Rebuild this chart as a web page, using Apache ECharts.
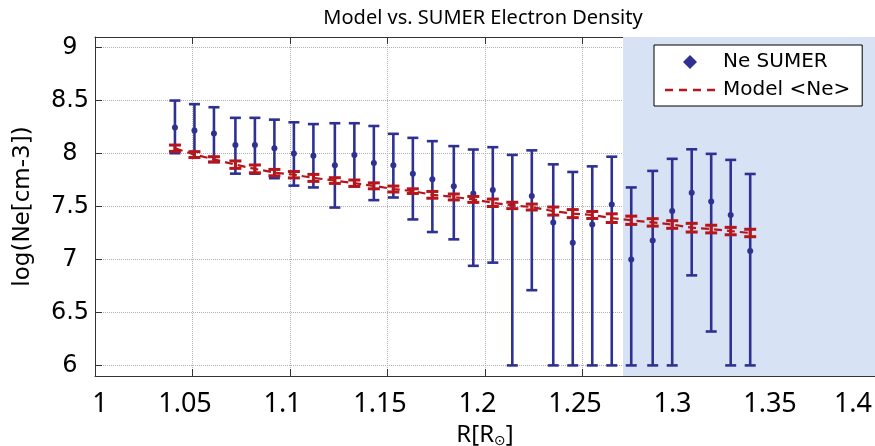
<!DOCTYPE html>
<html><head><meta charset="utf-8">
<script src="https://cdn.jsdelivr.net/npm/echarts@6/dist/echarts.min.js"></script>
<style>html,body{margin:0;padding:0;background:#fff}#c{width:875px;height:446px}</style>
</head><body><div id="c"></div>
<script>
const radius = [1.041,1.051,1.061,1.072,1.082,1.092,1.102,1.112,1.123,1.133,1.143,1.153,1.163,1.173,1.184,1.194,1.204,1.214,1.224,1.235,1.245,1.255,1.265,1.275,1.286,1.296,1.306,1.316,1.326,1.336];
const sumerNe = [8.245,8.217,8.19,8.08,8.08,8.05,8.00,7.978,7.89,7.987,7.91,7.89,7.81,7.757,7.69,7.623,7.656,7.52,7.60,7.35,7.157,7.33,7.52,7.00,7.18,7.457,7.63,7.547,7.42,7.08];
const sumerHigh = [8.50,8.466,8.437,8.337,8.337,8.32,8.295,8.278,8.286,8.286,8.26,8.186,8.148,8.117,8.07,8.038,8.06,7.987,8.03,7.898,7.826,7.879,7.97,7.68,7.836,7.95,8.04,7.997,7.94,7.807];
const sumerLow = [8.003,7.965,7.92,7.81,7.81,7.767,7.697,7.68,7.49,7.688,7.56,7.585,7.378,7.259,7.19,6.94,6.97,6.0,6.71,6.0,6.0,6.0,6.0,6.0,6.0,6.0,6.85,6.32,6.0,6.0];
const modelNe = [8.05,7.99,7.945,7.895,7.855,7.82,7.80,7.77,7.745,7.72,7.695,7.665,7.645,7.61,7.59,7.567,7.535,7.51,7.495,7.457,7.433,7.42,7.39,7.37,7.35,7.33,7.30,7.287,7.268,7.25];
const modelErr = [0.03,0.028,0.025,0.035,0.037,0.03,0.03,0.033,0.027,0.03,0.028,0.028,0.022,0.032,0.028,0.028,0.035,0.03,0.028,0.038,0.038,0.033,0.041,0.039,0.035,0.036,0.041,0.036,0.035,0.035];
const yTicks = [6,6.5,7,7.5,8,8.5,9];
const shadeFrom = 1.2708;
const shadeTo = 1.4;

const chart = echarts.init(document.getElementById('c'));
const blue = '#2e3192', red = '#b5161d';

function errRender(color, capHalf, lw) {
  return function (params, api) {
    const x = api.value(0), lo = api.value(1), hi = api.value(2);
    const pLo = api.coord([x, lo]), pHi = api.coord([x, hi]);
    const style = {stroke: color, lineWidth: lw, fill: null};
    return {type: 'group', children: [
      {type: 'line', shape: {x1: pLo[0], y1: pLo[1], x2: pHi[0], y2: pHi[1]}, style: style},
      {type: 'line', shape: {x1: pLo[0] - capHalf, y1: pLo[1], x2: pLo[0] + capHalf, y2: pLo[1]}, style: style},
      {type: 'line', shape: {x1: pHi[0] - capHalf, y1: pHi[1], x2: pHi[0] + capHalf, y2: pHi[1]}, style: style}
    ]};
  };
}

const axisLineStyle = {color: '#333', width: 1};
const fmtX = v => {
  const s = String(parseFloat(v.toFixed(2)));
  if (v === 1) return '{a|' + s + '}';
  if (v >= 1.4) return '{f|' + s + '}';
  return '{n|' + s + '}';
};

chart.setOption({
  animation: false,
  title: {text: 'Model vs. SUMER Electron Density', left: 478, textAlign: 'center', top: 3,
    textStyle: {fontFamily: 'Noto Sans', fontSize: 20, fontWeight: 'normal', color: '#000'}},
  legend: {
    orient: 'vertical', left: 654, top: 45, padding: [7, 12, 6, 11],
    borderColor: '#000', borderWidth: 1, backgroundColor: '#fff', borderRadius: 0,
    itemWidth: 50, itemHeight: 14, itemGap: 8,
    textStyle: {fontFamily: 'DejaVu Sans', fontSize: 20, color: '#000', padding: [0, 0, 0, 3]},
    data: [
      {name: 'Ne SUMER', icon: 'path://M5,0 L10,5 L5,10 L0,5 Z'},
      {name: 'Model <Ne>', icon: 'path://M0,0h8v2.5h-8z M14,0h8v2.5h-8z M28,0h8v2.5h-8z M42,0h8v2.5h-8z'}
    ]
  },
  grid: {left: 95, right: 0, top: 37, bottom: 70, outerBoundsMode: 'none', containLabel: false},
  xAxis: [{
    type: 'value', min: 1, max: 1.4, interval: 0.05, position: 'bottom',
    axisLine: {show: true, lineStyle: axisLineStyle},
    axisTick: {show: true, inside: true, length: 7, lineStyle: axisLineStyle},
    axisLabel: {margin: 15, color: '#000', fontFamily: 'Noto Sans', fontSize: 27, formatter: fmtX,
      alignMaxLabel: 'right',
      rich: {n: {fontFamily: 'Noto Sans', fontSize: 27, color: '#000', padding: [0, 15, 0, 0]},
             a: {fontFamily: 'Noto Sans', fontSize: 27, color: '#000', padding: [0, 0, 0, 10]},
             f: {fontFamily: 'Noto Sans', fontSize: 27, color: '#000', padding: [0, 3, 0, 0]}}},
    splitLine: {show: true, lineStyle: {type: 'dotted', color: '#b0b0b0', width: 1}},
    name: 'R[R{s|⊙}]', nameLocation: 'middle', nameGap: 44,
    nameTextStyle: {fontFamily: 'Noto Sans', fontSize: 24, color: '#000',
      rich: {s: {fontFamily: 'DejaVu Sans', fontSize: 14, color: '#000', padding: [12, 0, 0, 0]}}}
  }, {
    type: 'value', min: 1, max: 1.4, interval: 0.05, position: 'top',
    axisLine: {show: true, lineStyle: axisLineStyle},
    axisTick: {show: true, inside: true, length: 7, lineStyle: axisLineStyle},
    axisLabel: {show: false}, splitLine: {show: false}
  }],
  yAxis: [{
    type: 'value', min: 5.9, max: 9.1, position: 'left',
    axisLine: {show: true, lineStyle: axisLineStyle},
    axisTick: {show: true, inside: true, length: 7, customValues: yTicks, lineStyle: axisLineStyle},
    axisLabel: {customValues: yTicks, align: 'center', margin: 25, fontFamily: 'DejaVu Sans', fontSize: 24, color: '#000',
      formatter: v => String(v)},
    splitLine: {show: true, lineStyle: {type: 'dotted', color: '#b0b0b0', width: 1}},
    name: 'log(Ne[cm-3])', nameLocation: 'middle', nameGap: 60, nameRotate: 90,
    nameTextStyle: {fontFamily: 'DejaVu Sans', fontSize: 23, color: '#000'}
  }, {
    type: 'value', min: 5.9, max: 9.1, position: 'right',
    axisLine: {show: true, lineStyle: axisLineStyle},
    axisTick: {show: true, inside: true, length: 7, customValues: yTicks, lineStyle: axisLineStyle},
    axisLabel: {show: false}, splitLine: {show: false}
  }],
  series: [
    {type: 'line', name: 'shade', data: [], z: -1, silent: true,
      markArea: {silent: true, itemStyle: {color: '#d7e2f4'}, data: [[{xAxis: shadeFrom}, {xAxis: shadeTo}]]}},
    {type: 'custom', name: 'sumerErr', z: 2, renderItem: errRender(blue, 5.5, 2.6),
      data: radius.map((r, i) => [r, sumerLow[i], sumerHigh[i]]), itemStyle: {color: blue}},
    {type: 'scatter', name: 'Ne SUMER', z: 3, symbol: 'circle', symbolSize: 6,
      itemStyle: {color: blue, opacity: 1}, data: radius.map((r, i) => [r, sumerNe[i]])},
    {type: 'custom', name: 'modelErr', z: 4, renderItem: errRender(red, 6, 3),
      data: radius.map((r, i) => [r, modelNe[i] - modelErr[i], modelNe[i] + modelErr[i]]), itemStyle: {color: red}},
    {type: 'line', name: 'Model <Ne>', z: 5, symbol: 'none', color: red, itemStyle: {color: red},
      lineStyle: {color: red, width: 2.2, type: [8, 5]}, data: radius.map((r, i) => [r, modelNe[i]])}
  ]
});
</script></body></html>
